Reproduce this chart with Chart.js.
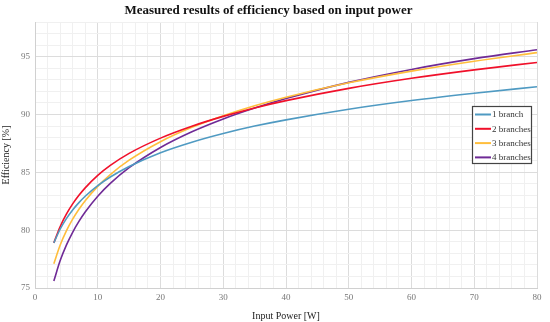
<!DOCTYPE html>
<html>
<head>
<meta charset="utf-8">
<script src="https://cdn.jsdelivr.net/npm/chart.js@4.4.1/dist/chart.umd.min.js"></script>
<style>
  html, body { margin: 0; padding: 0; background: #fff; }
  #wrap { width: 550px; height: 322px; }
</style>
</head>
<body>
<div id="wrap"><canvas id="chart" width="550" height="322"></canvas></div>
<script>
// input power [W]
const powerW = [3, 4, 5, 6, 7, 8, 10, 12, 15, 20, 25, 30, 35, 40, 50, 60, 70, 80];

// efficiency [%]
const eff1 = [78.9, 80.08, 81.0, 81.75, 82.38, 82.93, 83.85, 84.6, 85.51, 86.7, 87.61, 88.36, 89.0, 89.54, 90.46, 91.21, 91.84, 92.4];
const eff2 = [78.9, 80.3, 81.38, 82.27, 83.01, 83.66, 84.74, 85.6, 86.64, 87.96, 88.99, 89.84, 90.57, 91.2, 92.26, 93.13, 93.86, 94.5];
const eff3 = [77.1, 78.7, 79.94, 80.95, 81.81, 82.55, 83.79, 84.81, 86.05, 87.65, 88.89, 89.9, 90.76, 91.5, 92.74, 93.75, 94.61, 95.35];
const eff4 = [75.6, 77.35, 78.71, 79.82, 80.76, 81.57, 82.93, 84.04, 85.4, 87.15, 88.51, 89.62, 90.56, 91.38, 92.78, 93.9, 94.83, 95.6];

const seriesNames = ['1 branch', '2 branches', '3 branches', '4 branches'];
const seriesColors = ['#4f9ac2', '#f0102a', '#ffbe3c', '#6f2a96'];

const SERIF = "'Liberation Serif', 'DejaVu Serif', serif";

const toPts = arr => arr.map((v, i) => ({ x: powerW[i], y: v }));

// legend box drawn inside the plot area (top right)
const boxLegend = {
  id: 'boxLegend',
  afterDatasetsDraw(chart) {
    const ctx = chart.ctx;
    const area = chart.chartArea;
    const x0 = area.right - 65, y0 = 106, w = 59, h = 57;
    ctx.save();
    ctx.fillStyle = '#ffffff';
    ctx.fillRect(x0, y0, w, h);
    ctx.strokeStyle = '#444';
    ctx.lineWidth = 1.2;
    ctx.strokeRect(x0 + 0.5, y0 + 0.5, w, h);
    ctx.font = '9px ' + SERIF;
    ctx.textBaseline = 'middle';
    chart.data.datasets.forEach((ds, i) => {
      const yy = y0 + 8.5 + i * 14.3;
      ctx.strokeStyle = ds.borderColor;
      ctx.lineWidth = 2;
      ctx.beginPath();
      ctx.moveTo(x0 + 3, yy);
      ctx.lineTo(x0 + 19, yy);
      ctx.stroke();
      ctx.fillStyle = '#333';
      ctx.fillText(ds.label, x0 + 20, yy + 0.5);
    });
    ctx.restore();
  }
};

new Chart(document.getElementById('chart'), {
  type: 'line',
  data: {
    datasets: [eff1, eff2, eff3, eff4].map((d, i) => ({
      label: seriesNames[i],
      data: toPts(d),
      borderColor: seriesColors[i],
      backgroundColor: seriesColors[i],
      borderWidth: 1.6,
      pointRadius: 0,
      cubicInterpolationMode: 'monotone',
      fill: false,
    }))
  },
  options: {
    responsive: false,
    animation: false,
    layout: { padding: { left: 0, right: 13, top: 0, bottom: 0 } },
    plugins: {
      legend: { display: false },
      tooltip: { enabled: false },
      title: {
        display: true,
        text: 'Measured results of efficiency based on input power',
        color: '#111',
        font: { family: SERIF, size: 13, weight: 'bold' },
        padding: { top: 3, bottom: 3.4 },
      }
    },
    scales: {
      x: {
        type: 'linear',
        min: 0, max: 80,
        afterFit: s => { s.height = 34; },
        ticks: {
          stepSize: 2,
          autoSkip: false,
          maxRotation: 0,
          color: '#777',
          font: { family: SERIF, size: 9 },
          padding: 4,
          callback: v => (v % 10 === 0 ? v : ''),
        },
        grid: {
          drawTicks: false,
          color: c => (c.tick && c.tick.value % 10 === 0 ? '#dcdcdc' : '#f0f0f0'),
          lineWidth: 1,
        },
        border: { color: '#d0d0d0' },
        title: {
          display: true,
          text: 'Input Power [W]',
          color: '#222',
          font: { family: SERIF, size: 10 },
          padding: { top: 2, bottom: 0 },
        }
      },
      y: {
        min: 75, max: 98,
        afterFit: s => { s.width = 35; },
        ticks: {
          stepSize: 1,
          autoSkip: false,
          color: '#777',
          font: { family: SERIF, size: 9 },
          padding: 5,
          callback: v => (v % 5 === 0 ? v : ''),
        },
        grid: {
          drawTicks: false,
          color: c => (c.tick && c.tick.value % 5 === 0 ? '#dcdcdc' : '#f0f0f0'),
          lineWidth: 1,
        },
        border: { color: '#d0d0d0' },
        title: {
          display: true,
          text: 'Efficiency [%]',
          color: '#222',
          font: { family: SERIF, size: 10 },
          padding: { top: 0, bottom: 2 },
        }
      }
    }
  },
  plugins: [boxLegend]
});
</script>
</body>
</html>
